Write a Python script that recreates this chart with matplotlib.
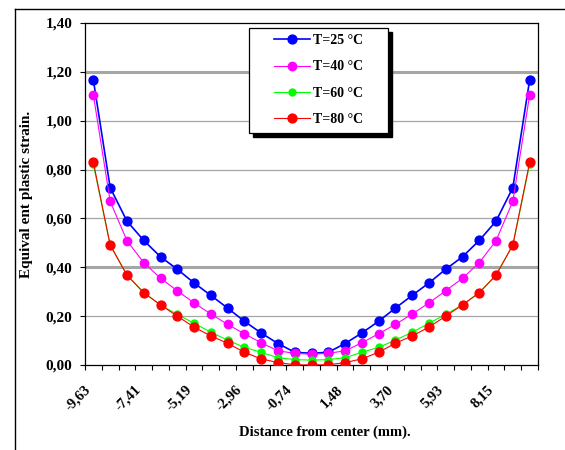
import matplotlib
matplotlib.use("Agg")
import matplotlib.pyplot as plt
from matplotlib.patches import Rectangle
from matplotlib.lines import Line2D
from matplotlib.ticker import FixedLocator, FuncFormatter

# distance from center (mm), one value per category
distance = [-9.63, -8.89, -8.15, -7.41, -6.67, -5.93, -5.19, -4.44, -3.70,
            -2.96, -2.22, -1.48, -0.74, 0.00, 0.74, 1.48, 2.22, 2.96,
            3.70, 4.44, 5.19, 5.93, 6.67, 7.41, 8.15, 8.89, 9.63]

t25 = [1.166, 0.726, 0.589, 0.510, 0.443, 0.392, 0.336, 0.285, 0.233,
       0.179, 0.131, 0.088, 0.052, 0.048, 0.052, 0.088, 0.131, 0.179,
       0.233, 0.285, 0.336, 0.392, 0.443, 0.510, 0.589, 0.726, 1.166]
t40 = [1.105, 0.670, 0.509, 0.419, 0.355, 0.304, 0.254, 0.209, 0.166,
       0.128, 0.091, 0.058, 0.048, 0.044, 0.048, 0.058, 0.091, 0.128,
       0.166, 0.209, 0.254, 0.304, 0.355, 0.419, 0.509, 0.670, 1.105]
t60 = [0.821, 0.491, 0.368, 0.296, 0.246, 0.207, 0.171, 0.134, 0.102,
       0.072, 0.052, 0.030, 0.022, 0.020, 0.022, 0.030, 0.052, 0.072,
       0.102, 0.134, 0.171, 0.207, 0.246, 0.296, 0.368, 0.491, 0.821]
t80 = [0.829, 0.491, 0.368, 0.296, 0.246, 0.200, 0.155, 0.119, 0.089,
       0.052, 0.025, 0.010, 0.001, 0.000, 0.001, 0.010, 0.025, 0.052,
       0.089, 0.119, 0.155, 0.200, 0.246, 0.296, 0.368, 0.491, 0.829]

labels = ["T=25 °C", "T=40 °C", "T=60 °C", "T=80 °C"]
colors = ["#0000FF", "#FF00FF", "#00FF00", "#FF0000"]
yticks = [0.0, 0.2, 0.4, 0.6, 0.8, 1.0, 1.2, 1.4]

W, H = 565, 450
plt.rcParams["font.family"] = ["Liberation Serif", "DejaVu Serif"]
plt.rcParams["font.weight"] = "bold"

fig = plt.figure(figsize=(W / 100, H / 100), dpi=100)
ax = fig.add_axes([85 / W, 1 - 365 / H, (538 - 85) / W, (365 - 23) / H])

idx = list(range(len(distance)))
series = [t25, t40, t60, t80]
lws = [1.2, 0.8, 0.8, 0.8]
msz = [6.4, 6.0, 5.0, 6.4]
for ys, c, lab, lw, ms in zip(series, colors, labels, lws, msz):
    ax.plot(idx, ys, color=c, lw=lw, marker="o", ms=ms, mec=c, mfc=c,
            label=lab, zorder=3)

ax.set_xlim(-0.5, len(distance) - 0.5)
ax.set_ylim(0, 1.4)

# grid lines (two of them look heavier in the original)
for v in yticks[1:-1]:
    heavy = abs(v - 0.4) < 1e-6 or abs(v - 1.2) < 1e-6
    ax.axhline(v, color="#A6A6A6", lw=2.2 if heavy else 0.9, zorder=1)

ax.set_yticks(yticks)
ax.yaxis.set_major_formatter(FuncFormatter(lambda v, p: f"{v:.2f}".replace(".", ",")))
ax.tick_params(axis="y", direction="out", length=3.6, width=0.8, pad=5.5,
               labelsize=11)

lab_idx = idx[::3]
ax.set_xticks(lab_idx)
ax.set_xticklabels([f"{distance[i]:.2f}".replace(".", ",") for i in lab_idx],
                   rotation=45, ha="right", fontsize=10.5)
ax.xaxis.set_minor_locator(FixedLocator([i - 0.5 for i in range(len(distance) + 1)]))
ax.tick_params(axis="x", which="major", length=0, pad=13)
ax.tick_params(axis="x", which="minor", direction="out", length=3.6, width=0.8)

for s in ax.spines.values():
    s.set_color("black")
    s.set_linewidth(0.9)

fig.text(27 / W, 1 - 194 / H, "Equival ent plastic strain.", rotation=90,
         ha="center", va="center", fontsize=11)
fig.text(325 / W, 1 - 432 / H, "Distance from center (mm).",
         ha="center", va="center", fontsize=10.5)

# legend box with a hard black shadow
bx0, by0, bx1, by1 = 249, 28, 388, 133
ax.add_patch(Rectangle((bx0 / W + 4 / W, 1 - by1 / H - 4 / H), (bx1 - bx0) / W, (by1 - by0) / H,
                       transform=fig.transFigure, facecolor="black", edgecolor="black",
                       zorder=4, clip_on=False))
ax.add_patch(Rectangle((bx0 / W, 1 - by1 / H), (bx1 - bx0) / W, (by1 - by0) / H,
                       transform=fig.transFigure, facecolor="white", edgecolor="black",
                       lw=0.9, zorder=4.5, clip_on=False))
leg = ax.legend(loc="center", bbox_to_anchor=((bx0 + bx1) / 2 / W, 1 - (by0 + by1) / 2 / H + 0.5 / H),
                bbox_transform=fig.transFigure, frameon=False,
                handlelength=2.6, handletextpad=0.2, labelspacing=0.95,
                prop={"weight": "bold", "size": 10})
leg.set_zorder(5)

# outer chart border (left and top edges visible)
fig.add_artist(Line2D([15 / W, 15 / W], [0, 1 - 9 / H], color="black", lw=1.0,
                      transform=fig.transFigure))
fig.add_artist(Line2D([15 / W, 1], [1 - 9 / H, 1 - 9 / H], color="black", lw=1.0,
                      transform=fig.transFigure))

fig.savefig("out.png", dpi=100)
